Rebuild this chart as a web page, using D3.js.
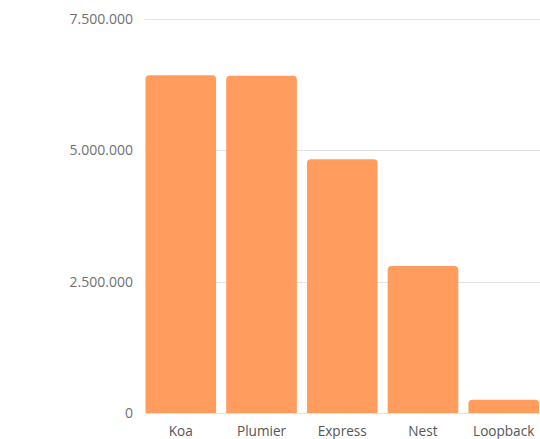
<!DOCTYPE html>
<html><head><meta charset="utf-8">
<script src="https://cdn.jsdelivr.net/npm/d3@7"></script>
<style>body{margin:0;background:#fff}svg{display:block}</style>
</head><body>
<svg id="c" width="540" height="439"></svg>
<script>
const categories = ["Koa", "Plumier", "Express", "Nest", "Loopback"];
const values = [6430000, 6420000, 4830000, 2800000, 250000];
const yTicks = [0, 2500000, 5000000, 7500000];
const tickLabels = ["0", "2.500.000", "5.000.000", "7.500.000"];

const svg = d3.select("#c");
const x = d3.scaleBand().domain(categories).range([145.5, 539]).paddingInner(0.125).paddingOuter(0);
const y = d3.scaleLinear().domain([0, 7500000]).range([413, 19]);

svg.append("g").selectAll("line").data(yTicks).join("line")
  .attr("x1", 145).attr("x2", 540)
  .attr("y1", d => Math.round(y(d)) + 0.5).attr("y2", d => Math.round(y(d)) + 0.5)
  .attr("stroke", "#e3e3e3").attr("stroke-width", 1);

svg.append("g").selectAll("text").data(yTicks).join("text")
  .attr("x", 133).attr("y", d => y(d))
  .attr("dy", "0.35em").attr("text-anchor", "end")
  .attr("font-family", "Open Sans").attr("font-size", 14).attr("fill", "#707070")
  .text((d, i) => tickLabels[i]);

function barPath(x0, w, yTop, yBase, r) {
  r = Math.min(r, (yBase - yTop), w / 2);
  return `M${x0},${yBase}V${yTop + r}Q${x0},${yTop} ${x0 + r},${yTop}H${x0 + w - r}Q${x0 + w},${yTop} ${x0 + w},${yTop + r}V${yBase}Z`;
}

svg.append("g").selectAll("path").data(categories).join("path")
  .attr("d", (c, i) => barPath(x(c), x.bandwidth(), y(values[i]), y(0), 4))
  .attr("fill", "#ff9c5e");

svg.append("g").selectAll("text").data(categories).join("text")
  .attr("x", c => x(c) + x.bandwidth() / 2).attr("y", 431)
  .attr("dy", "0.35em").attr("text-anchor", "middle")
  .attr("font-family", "Open Sans").attr("font-size", 13.6).attr("fill", "#555")
  .text(c => c);
</script>
</body></html>
